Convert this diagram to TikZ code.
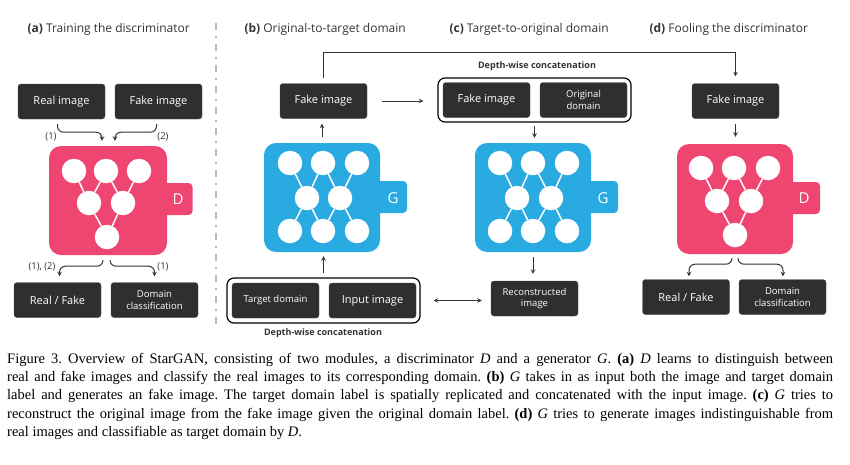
\documentclass[tikz,border=0pt]{standalone}
\usepackage{fontspec}
\setmainfont{Open Sans}
\newfontfamily\capfont{Liberation Serif}
\usepackage{tikz}
\usetikzlibrary{shapes,arrows,calc}

\definecolor{boxgray}{HTML}{2E3030}
\definecolor{dpink}{HTML}{EF4571}
\definecolor{gblue}{HTML}{29ABE2}
\definecolor{arrgray}{HTML}{333333}
\definecolor{sepgray}{HTML}{BBBBBB}

\tikzset{
  dbox/.style = {draw=boxgray!85, fill=boxgray, rounded corners=3pt, text=white, minimum width=87pt, minimum height=35pt, inner sep=0pt, align=center, font=\fontsize{11}{12}\selectfont},
  sbox/.style = {dbox, font=\fontsize{9.5}{11.5}\selectfont},
  cat/.style = {draw=black, fill=white, line width=1.2pt, rounded corners=7pt, minimum width=193pt, minimum height=45pt},
  dnet/.style = {fill=dpink, rounded corners=12pt, minimum width=118pt, minimum height=109pt},
  gnet/.style = {fill=gblue, rounded corners=12pt, minimum width=116pt, minimum height=109pt},
  tab/.style = {rounded corners=4pt, minimum width=37pt, minimum height=32pt},
  neuron/.style = {circle, fill=white, minimum size=24.5pt, inner sep=0pt},
  link/.style = {white, line width=1.5pt},
  letter/.style = {text=white, font=\fontsize{15}{15}\selectfont},
  arr/.style = {->, >=stealth, draw=arrgray, line width=1pt},
  brace/.style = {arr, rounded corners=6pt},
  num/.style = {text=arrgray, font=\fontsize{9.5}{10}\selectfont},
  ttl/.style = {anchor=west, text=arrgray, font=\fontsize{12}{13}\selectfont},
  depth/.style = {text=arrgray, font=\bfseries\fontsize{9}{10}\selectfont},
}

\begin{document}
\begin{tikzpicture}[x=1pt, y=-1pt]
	\useasboundingbox (0,0) rectangle (850,464);
	% titles
	\node (ta) [ttl] at (24,29) {\textbf{(a)} Training the discriminator};
	\node (tb) [ttl] at (241,29) {\textbf{(b)} Original-to-target domain};
	\node (tc) [ttl] at (446,29) {\textbf{(c)} Target-to-original domain};
	\node (td) [ttl] at (646,29) {\textbf{(d)} Fooling the discriminator};
	\coordinate (sepTop) at (216,23);
	\coordinate (sepBot) at (216,325);
	\draw[sepgray, line width=1.5pt, dash pattern=on 7pt off 6pt on 1.5pt off 6.5pt] (sepTop) -- (sepBot);

	% (a) training the discriminator
	\node (realA) [dbox] at (61.5,101.5) {Real image};
	\node (fakeA) [dbox] at (158.5,101.5) {Fake image};
	\node (tabA) [tab, fill=dpink] at (174,199) {};
	\node (dA) [dnet] at (108,200.5) {};
	\node (lA) [letter] at (178,199) {D};
	\node (a1) [neuron] at (74,171) {};
	\node (a2) [neuron] at (106,171) {};
	\node (a3) [neuron] at (139,171) {};
	\node (a4) [neuron] at (89,203) {};
	\node (a5) [neuron] at (123,203) {};
	\node (a6) [neuron] at (107,237) {};
	\draw[link] (a1) -- (a4) (a2) -- (a4) (a2) -- (a5) (a3) -- (a5) (a4) -- (a6) (a5) -- (a6);
	\node (rfA) [dbox] at (57.5,300) {Real / Fake};
	\node (domA) [sbox] at (154.5,300) {Domain\\classification};
	\draw[brace] ($(realA.south)+(-4,5)$) -- ++(0,8) -| ($(dA.north)+(-6,-5)$);
	\draw[brace] ($(fakeA.south)+(-2,5)$) -- ++(0,8) -| ($(dA.north)+(7,-5)$);
	\draw[brace] ($(dA.south)+(-5,5)$) -- ++(0,6) -| ($(rfA.north)+(2,-6)$);
	\draw[brace] ($(dA.south)+(2,5)$) -- ++(0,6) -| ($(domA.north)+(0,-6)$);
	\node (n1) [num] at (51,137) {(1)};
	\node (n2) [num] at (163,137) {(2)};
	\node (n3) [num] at (42,267) {(1), (2)};
	\node (n4) [num] at (163,267) {(1)};

	% (b) original-to-target domain
	\node (fakeB) [dbox] at (323.5,101) {Fake image};
	\node (tabB) [tab, fill=gblue] at (388.5,197) {};
	\node (gB) [gnet] at (322,197.5) {};
	\node (lB) [letter] at (393,198) {G};
	\node (b1) [neuron] at (290,163) {};
	\node (b2) [neuron] at (323,163) {};
	\node (b3) [neuron] at (357,163) {};
	\node (b4) [neuron] at (307,198) {};
	\node (b5) [neuron] at (340,198) {};
	\node (b6) [neuron] at (290,231) {};
	\node (b7) [neuron] at (323,231) {};
	\node (b8) [neuron] at (357,231) {};
	\draw[link] (b1) -- (b4) (b2) -- (b4) (b2) -- (b5) (b3) -- (b5) (b4) -- (b6) (b4) -- (b7) (b5) -- (b7) (b5) -- (b8);
	\node (catB) [cat] at (323.5,300.5) {};
	\node (tgtB) [sbox] at (275.5,300.5) {Target domain};
	\node (inB) [dbox] at (372.5,300.5) {Input image};
	\node (dwB) [depth] at (323,333) {Depth-wise concatenation};
	\draw[arr, shorten <=4pt, shorten >=4pt] (catB.north) -- (catB.north |- gB.south);
	\draw[arr, shorten <=6pt, shorten >=5pt] (gB.north) -- (gB.north |- fakeB.south);

	% (c) target-to-original domain
	\node (catC) [cat, minimum height=44pt] at (534.5,100) {};
	\node (fakeC) [dbox] at (486.5,100) {Fake image};
	\node (origC) [sbox] at (583.5,100) {Original\\domain};
	\node (dwC) [depth] at (537,66) {Depth-wise concatenation};
	\node (tabC) [tab, fill=gblue] at (599.5,197) {};
	\node (gC) [gnet] at (533,197.5) {};
	\node (lC) [letter] at (603,198) {G};
	\node (c1) [neuron] at (500,163) {};
	\node (c2) [neuron] at (533,163) {};
	\node (c3) [neuron] at (567,163) {};
	\node (c4) [neuron] at (517,198) {};
	\node (c5) [neuron] at (551,198) {};
	\node (c6) [neuron] at (500,231) {};
	\node (c7) [neuron] at (533,231) {};
	\node (c8) [neuron] at (567,231) {};
	\draw[link] (c1) -- (c4) (c2) -- (c4) (c2) -- (c5) (c3) -- (c5) (c4) -- (c6) (c4) -- (c7) (c5) -- (c7) (c5) -- (c8);
	\node (recC) [sbox] at (534.5,298.5) {Reconstructed\\image};
	\draw[arr, shorten <=3pt, shorten >=5pt] (catC.south) -- (catC.south |- gC.north);
	\draw[arr, shorten <=5pt, shorten >=7pt] (gC.south) -- (gC.south |- recC.north);
	\draw[arr, <->, shorten <=13pt, shorten >=9pt] (catB.east) -- (catB.east -| recC.west);
	\draw[arr, shorten <=15pt, shorten >=14pt] (fakeB.east) -- (fakeB.east -| catC.west);

	% (d) fooling the discriminator
	\node (fakeD) [dbox] at (735.5,101) {Fake image};
	\node (tabD) [tab, fill=dpink] at (801.5,198) {};
	\node (dD) [dnet, minimum width=116pt, minimum height=110pt] at (735,199) {};
	\node (lD) [letter] at (804,198) {D};
	\node (d1) [neuron] at (701,168) {};
	\node (d2) [neuron] at (734,168) {};
	\node (d3) [neuron] at (768,168) {};
	\node (d4) [neuron] at (717,201) {};
	\node (d5) [neuron] at (751,201) {};
	\node (d6) [neuron] at (735,235) {};
	\draw[link] (d1) -- (d4) (d2) -- (d4) (d2) -- (d5) (d3) -- (d5) (d4) -- (d6) (d5) -- (d6);
	\node (rfD) [dbox] at (686,297) {Real / Fake};
	\node (domD) [sbox] at (782.5,297) {Domain\\classification};
	\draw[arr, shorten <=5pt, shorten >=7pt] (fakeD.south) -- (fakeD.south |- dD.north);
	\draw[brace] ($(dD.south)+(-3,4)$) -- ++(0,6) -| ($(rfD.north)+(3,-3)$);
	\draw[brace] ($(dD.south)+(3,4)$) -- ++(0,6) -| ($(domD.north)+(0.5,-3)$);
	\draw[arr, shorten <=5pt, shorten >=7pt] (fakeB.north) -- ++(0,-31) -| (fakeD.north);

	% caption
	\node (cap) [anchor=north west, inner sep=0pt, text width=826pt, align=justify, font=\capfont\fontsize{14.5}{18.25}\selectfont\frenchspacing] at (7,353) {Figure 3. Overview of StarGAN, consisting of two modules, a discriminator \textit{D} and a generator \textit{G}. \textbf{(a)} \textit{D} learns to distinguish between\linebreak real and fake images and classify the real images to its corresponding domain. \textbf{(b)} \textit{G} takes in as input both the image and target domain\linebreak label and generates an fake image. The target domain label is spatially replicated and concatenated with the input image. \textbf{(c)} \textit{G} tries to\linebreak reconstruct the original image from the fake image given the original domain label. \textbf{(d)} \textit{G} tries to generate images indistinguishable from\linebreak real images and classifiable as target domain by \textit{D}.};
\end{tikzpicture}
\end{document}
